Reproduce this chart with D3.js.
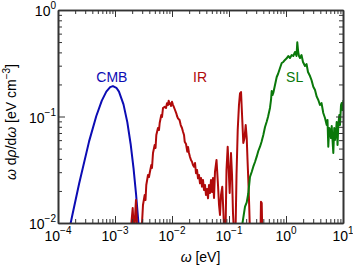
<!DOCTYPE html>
<html><head><meta charset="utf-8">
<script src="https://cdn.jsdelivr.net/npm/d3@7"></script>
<style>body{margin:0;background:#fff}svg{display:block;font-family:"Liberation Sans",Arial,sans-serif}</style>
</head><body><svg id="c" width="353" height="268"></svg>
<script>
// ---- data ----
const cmbOmega = [1.41e-4,1.64e-4,1.76e-4,2.35e-4,3.52e-4,4.70e-4,5.87e-4,7.04e-4,8.22e-4,9.2e-4,1.057e-3,1.174e-3,1.409e-3,1.644e-3,1.878e-3,2.113e-3,2.348e-3,2.583e-3,2.70e-3];
const cmbRho   = [0.0064,0.00956,0.01144,0.0235,0.0587,0.1011,0.141,0.1713,0.1886,0.193,0.186,0.1712,0.130,0.0885,0.0555,0.0327,0.01833,0.00987,0.0072];

const irOmega = [1.832e-3,2.044e-3,2.153e-3,2.333e-3,2.483e-3,2.858e-3,2.979e-3,3.097e-3,3.319e-3,3.428e-3,3.540e-3,3.793e-3,3.945e-3,4.064e-3,4.335e-3,4.457e-3,4.642e-3,4.966e-3,5.14e-3,5.309e-3,5.675e-3,5.916e-3,6.081e-3,6.486e-3,6.683e-3,6.95e-3,7.447e-3,7.852e-3,8.166e-3,8.511e-3,8.75e-3,9.036e-3,9.333e-3,9.594e-3,0.01,0.01042,0.01072,0.0113,0.01189,0.01225,0.01274,0.01356,0.01422,0.01496,0.0156,0.01626,0.01671,0.01762,0.01854,0.0191,0.01986,0.0207,0.02154,0.02244,0.02333,0.02432,0.02535,0.02636,0.02748,0.02858,0.02979,0.03097,0.03228,0.03357,0.03499,0.03639,0.03793,0.03945,0.04111,0.04285,0.04457,0.04645,0.0483,0.05035,0.05236,0.05458,0.05675,0.0604,0.06412,0.06683,0.0695,0.07244,0.07621,0.07943,0.08279,0.0869,0.09036,0.09484,0.09886,0.1028,0.1084,0.113,0.1175,0.1225,0.13,0.1355,0.1422,0.1496,0.156,0.1626,0.171,0.1782,0.1871,0.1963,0.2046,0.2113,0.2183,0.2259,0.2333,0.3573,0.3639,0.375,0.3837];
const irRho   = [0.007,0.01384,0.0077,0.01644,0.007,0.007,0.01,0.01476,0.01832,0.01644,0.02275,0.02823,0.02704,0.02946,0.03505,0.03283,0.04543,0.05398,0.05061,0.067,0.078,0.07468,0.0869,0.1033,0.09892,0.1202,0.1236,0.1202,0.133,0.1282,0.1407,0.131,0.133,0.1255,0.1377,0.1282,0.1236,0.1151,0.1071,0.1011,0.09618,0.09268,0.08318,0.078,0.07199,0.067,0.05799,0.05516,0.04672,0.05176,0.04543,0.04168,0.03906,0.03765,0.03505,0.0338,0.03658,0.0293,0.03147,0.0263,0.02823,0.02359,0.02647,0.02193,0.02535,0.02042,0.02275,0.01832,0.02085,0.01706,0.02275,0.01913,0.02535,0.01954,0.02647,0.01718,0.03013,0.03906,0.02275,0.01476,0.01189,0.01832,0.02193,0.01324,0.008,0.008,0.03147,0.052,0.03147,0.01913,0.04543,0.02823,0.01242,0.008,0.008,0.02823,0.07468,0.1282,0.1651,0.1698,0.09268,0.05636,0.06281,0.08318,0.06281,0.03906,0.02535,0.01476,0.008,0.008,0.01585,0.01542,0.008];

const slOmega = [0.1656,0.1726,0.191,0.2046,0.2183,0.2333,0.25,0.2667,0.2858,0.3062,0.3266,0.3499,0.3715,0.3999,0.4285,0.4581,0.4831,0.5236,0.5458,0.5611,0.5794,0.5984,0.6412,0.6871,0.7244,0.7852,0.8414,0.8974,0.9594,1.028,1.096,1.175,1.259,1.343,1.439,1.528,1.578,1.637,1.690,1.762,1.871,1.986,2.153,2.291,2.432,2.636,2.8,3.013,3.228,3.459,3.69,3.945,4.198,4.508,4.831,5.176,5.346,5.521,5.728,5.916,6.152,6.339,6.546,6.761,7.015,7.244,7.534,7.745,8.017,8.279,8.610,8.851,9.226,9.484,9.795,10.2];
const slRho   = [0.008,0.01,0.01422,0.01564,0.01901,0.02704,0.03013,0.0338,0.03741,0.04195,0.04743,0.052,0.05764,0.067,0.07962,0.08933,0.09892,0.1202,0.1429,0.1735,0.1591,0.1662,0.1977,0.2349,0.2506,0.2853,0.3179,0.325,0.3396,0.3518,0.3699,0.354,0.3777,0.3699,0.4035,0.3699,0.4974,0.4035,0.3699,0.354,0.3777,0.325,0.2979,0.3112,0.2618,0.2399,0.2202,0.1905,0.1774,0.1535,0.1429,0.1282,0.1339,0.1078,0.09683,0.08318,0.09268,0.052,0.078,0.07468,0.06281,0.08147,0.06017,0.04543,0.078,0.06017,0.07148,0.08878,0.05398,0.08318,0.1033,0.08318,0.1282,0.1339,0.1151,0.1429];

const xMajor = [1e-4,1e-3,1e-2,1e-1,1,10];
const xExp   = ["−4","−3","−2","−1","0","1"];
const yMajor = [0.01,0.1,1];
const yExp   = ["−2","−1","0"];
const labels = [{t:"CMB",x:8.8e-4,y:0.21,c:"#0c0cb4"},{t:"IR",x:3.1e-2,y:0.21,c:"#b00a0a"},{t:"SL",x:1.42,y:0.21,c:"#0a780a"}];

// ---- chart ----
const L=58,R=343,T=10,B=223;
const svg=d3.select("#c");
const x=d3.scaleLog().domain([1e-4,10]).range([L,R]);
const y=d3.scaleLog().domain([0.01,1]).range([B,T]);

svg.append("defs").append("clipPath").attr("id","clip").append("rect")
  .attr("x",L).attr("y",T).attr("width",R-L).attr("height",B-T);

const line=d3.line().x(d=>x(d[0])).y(d=>y(d[1]));
const series=[[cmbOmega,cmbRho,"#0c0cb4"],[irOmega,irRho,"#b00a0a"],[slOmega,slRho,"#0a780a"]];
const g=svg.append("g").attr("clip-path","url(#clip)");
series.forEach(([o,r,c])=>{
  g.append("path").datum(o.map((v,i)=>[v,r[i]])).attr("d",line)
   .attr("fill","none").attr("stroke",c).attr("stroke-width",2).attr("stroke-linejoin","round");
});

// minor ticks
const xMinor=[];xMajor.slice(0,-1).forEach(m=>{for(let k=2;k<10;k++)xMinor.push(m*k);});
const yMinor=[];yMajor.slice(0,-1).forEach(m=>{for(let k=2;k<10;k++)yMinor.push(m*k);});
const ax="#333";
function styl(s){s.select(".domain").attr("stroke",ax).attr("stroke-width",1.6);s.selectAll(".tick line").attr("stroke",ax).attr("stroke-width",1);s.selectAll("text").remove();}
svg.append("g").attr("transform",`translate(0,${B})`).call(d3.axisBottom(x).tickValues(xMajor).tickSize(-7).tickSizeOuter(0)).call(styl);
svg.append("g").attr("transform",`translate(0,${B})`).call(d3.axisBottom(x).tickValues(xMinor).tickSize(-4).tickSizeOuter(0)).call(styl);
svg.append("g").attr("transform",`translate(0,${T})`).call(d3.axisTop(x).tickValues(xMajor).tickSize(-7).tickSizeOuter(0)).call(styl);
svg.append("g").attr("transform",`translate(0,${T})`).call(d3.axisTop(x).tickValues(xMinor).tickSize(-4).tickSizeOuter(0)).call(styl);
svg.append("g").attr("transform",`translate(${L},0)`).call(d3.axisLeft(y).tickValues(yMajor).tickSize(-7).tickSizeOuter(0)).call(styl);
svg.append("g").attr("transform",`translate(${L},0)`).call(d3.axisLeft(y).tickValues(yMinor).tickSize(-4).tickSizeOuter(0)).call(styl);
svg.append("g").attr("transform",`translate(${R},0)`).call(d3.axisRight(y).tickValues(yMajor).tickSize(-7).tickSizeOuter(0)).call(styl);
svg.append("g").attr("transform",`translate(${R},0)`).call(d3.axisRight(y).tickValues(yMinor).tickSize(-4).tickSizeOuter(0)).call(styl);

// tick labels
xMajor.forEach((v,i)=>{
  const t=svg.append("text").attr("x",x(v)).attr("y",B+18).attr("text-anchor","middle").attr("font-size",14).attr("fill","#000");
  t.append("tspan").text("10");
  t.append("tspan").attr("font-size",10).attr("dy",-7).text(xExp[i]);
});
yMajor.forEach((v,i)=>{
  const t=svg.append("text").attr("x",L-2).attr("y",y(v)+6).attr("text-anchor","end").attr("font-size",14).attr("fill","#000");
  t.append("tspan").text("10");
  t.append("tspan").attr("font-size",10).attr("dy",-7).text(yExp[i]);
});

// axis titles
const xl=svg.append("text").attr("x",(L+R)/2).attr("y",262).attr("text-anchor","middle").attr("font-size",14);
xl.append("tspan").attr("font-style","italic").text("ω");
xl.append("tspan").text(" [eV]");
const yl=svg.append("text").attr("transform",`translate(16,122) rotate(-90)`).attr("text-anchor","middle").attr("font-size",14);
yl.append("tspan").attr("font-style","italic").text("ω");
yl.append("tspan").text(" d");
yl.append("tspan").attr("font-style","italic").text("ρ");
yl.append("tspan").text("/d");
yl.append("tspan").attr("font-style","italic").text("ω");
yl.append("tspan").text(" [eV cm");
yl.append("tspan").attr("font-size",10).attr("dy",-6).text("−3");
yl.append("tspan").attr("dy",6).text("]");

// curve labels
labels.forEach(l=>{
  svg.append("text").attr("x",x(l.x)).attr("y",y(l.y)).attr("text-anchor","middle")
    .attr("font-size",14).attr("fill",l.c).text(l.t);
});
</script></body></html>
